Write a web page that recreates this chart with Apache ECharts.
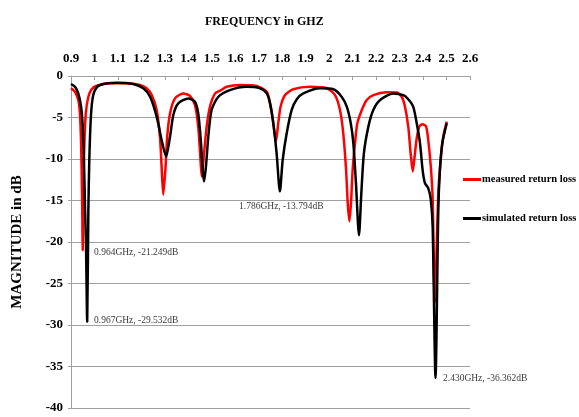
<!DOCTYPE html>
<html>
<head>
<meta charset="utf-8">
<script src="https://cdn.jsdelivr.net/npm/echarts@6/dist/echarts.min.js"></script>
<style>html,body{margin:0;padding:0;background:#fff;}#c{width:579px;height:417px;}</style>
</head>
<body>
<div id="c"></div>
<script>
// Measured return loss (red)
var measuredFreq = [0.900,0.917,0.931,0.938,0.943,0.947,0.950,0.952,0.957,0.963,0.974,0.988,1.010,1.066,1.137,1.194,1.222,1.244,1.265,1.279,1.286,1.293,1.303,1.310,1.322,1.343,1.378,1.407,1.428,1.442,1.450,1.457,1.467,1.478,1.492,1.514,1.535,1.563,1.620,1.691,1.734,1.751,1.762,1.773,1.783,1.793,1.812,1.847,1.918,1.990,2.025,2.046,2.060,2.072,2.079,2.086,2.093,2.100,2.110,2.120,2.139,2.160,2.188,2.245,2.288,2.309,2.323,2.337,2.347,2.356,2.364,2.373,2.384,2.398,2.413,2.422,2.433,2.441,2.450,2.465,2.475,2.486,2.501];
var measuredDb   = [-1.48,-1.9,-2.9,-4.5,-8.1,-14.1,-21.0,-14.1,-8.1,-4.5,-2.5,-1.6,-1.17,-0.88,-0.88,-1.08,-1.48,-2.3,-4.1,-7.3,-10.9,-14.3,-10.9,-7.3,-4.5,-2.7,-2.1,-2.4,-3.5,-6.1,-9.3,-12.1,-9.3,-6.1,-3.7,-2.1,-1.77,-1.3,-1.08,-1.2,-1.9,-3.7,-5.7,-7.9,-5.7,-3.7,-2.3,-1.6,-1.3,-1.48,-2.3,-4.1,-6.9,-11.3,-15.3,-17.5,-15.3,-11.3,-8.1,-5.7,-4.1,-2.9,-2.3,-1.96,-2.0,-2.5,-3.7,-6.1,-9.3,-11.5,-9.7,-7.5,-6.1,-5.8,-6.1,-7.7,-10.9,-14.9,-27.3,-14.1,-10.1,-7.3,-5.5];
// Simulated return loss (black)
var simulatedFreq = [0.900,0.917,0.931,0.943,0.950,0.955,0.960,0.964,0.969,0.974,0.978,0.984,0.991,1.002,1.024,1.095,1.165,1.208,1.237,1.265,1.286,1.305,1.322,1.336,1.357,1.400,1.428,1.442,1.453,1.461,1.467,1.475,1.485,1.499,1.528,1.577,1.648,1.705,1.734,1.748,1.762,1.776,1.790,1.802,1.819,1.840,1.862,1.890,1.961,2.018,2.053,2.075,2.092,2.103,2.114,2.127,2.137,2.148,2.167,2.188,2.217,2.273,2.316,2.337,2.358,2.373,2.387,2.398,2.408,2.422,2.433,2.441,2.453,2.465,2.472,2.482,2.501];
var simulatedDb   = [-0.96,-1.3,-2.1,-3.7,-6.1,-10.1,-16.1,-20.6,-29.6,-16.1,-10.1,-5.3,-2.9,-1.7,-1.08,-0.8,-0.96,-1.48,-2.5,-4.9,-7.7,-9.7,-7.3,-4.7,-3.3,-2.7,-3.1,-4.5,-7.7,-11.3,-12.7,-10.9,-7.3,-4.1,-2.5,-1.7,-1.3,-1.48,-2.1,-3.3,-5.7,-9.3,-13.9,-10.1,-6.9,-4.1,-2.8,-2.1,-1.48,-1.6,-2.5,-3.7,-5.7,-8.1,-12.9,-19.2,-14.1,-9.3,-6.1,-4.1,-2.9,-2.1,-2.3,-2.8,-3.7,-5.7,-8.1,-11.3,-12.9,-13.5,-14.9,-18.2,-36.4,-16.1,-11.3,-8.1,-5.7];
// Annotation texts and anchor positions (left edge of text)
var annoText = ['0.964GHz, -21.249dB','0.967GHz, -29.532dB','1.786GHz, -13.794dB','2.430GHz, -36.362dB'];
var annoFreq = [0.998, 0.998, 1.616, 2.485];
var annoDb   = [-21.3, -29.5, -15.7, -36.4];
// Axis ticks
var xMin = 0.9, xMax = 2.6, xStep = 0.1;
var yMin = -40, yMax = 0, yStep = 5;

function pairs(xs, ys){ return xs.map(function(x,i){ return [x, ys[i]]; }); }
var FONT = "'Liberation Serif','Times New Roman',serif";
var chart = echarts.init(document.getElementById('c'));
chart.setOption({
  animation: false,
  title: { text: 'FREQUENCY in GHZ', left: 200, top: 11,
    textStyle: { fontFamily: FONT, fontSize: 12, fontWeight: 'bold', color: '#000' } },
  grid: { left: 71, right: 109, top: 76, bottom: 9, containLabel: false, outerBoundsMode: 'none' },
  legend: {
    data: ['measured return loss','simulated return loss'],
    orient: 'vertical', left: 463, top: 174, icon: 'rect', itemWidth: 18, itemHeight: 3,
    itemGap: 28, padding: 0,
    textStyle: { fontFamily: FONT, fontSize: 10.5, fontWeight: 'bold', color: '#000', padding: [0,0,0,-4] }
  },
  xAxis: {
    type: 'value', position: 'top', min: xMin, max: xMax, interval: xStep,
    axisLine: { onZero: false, lineStyle: { color: '#a0a0a0' } },
    axisTick: { inside: true, length: 4, lineStyle: { color: '#a0a0a0' } },
    splitLine: { show: false },
    axisLabel: { fontFamily: FONT, fontSize: 13, fontWeight: 'bold', color: '#000', margin: 11,
      formatter: function(v){ return String(Math.round(v*10)/10); } }
  },
  yAxis: {
    type: 'value', min: yMin, max: yMax, interval: yStep,
    name: 'MAGNITUDE in dB', nameLocation: 'middle', nameRotate: 90, nameGap: 46,
    nameTextStyle: { fontFamily: FONT, fontSize: 15, fontWeight: 'bold', color: '#000' },
    axisLine: { show: true, lineStyle: { color: '#a0a0a0' } },
    axisTick: { show: true, length: 3, lineStyle: { color: '#a0a0a0' } },
    splitLine: { lineStyle: { color: '#a0a0a0' } },
    axisLabel: { fontFamily: FONT, fontSize: 13, fontWeight: 'bold', color: '#000', margin: 8 }
  },
  series: [
    { name: 'measured return loss', type: 'line', data: pairs(measuredFreq, measuredDb),
      showSymbol: false, smooth: 0.25, lineStyle: { color: '#ff0000', width: 2.5 }, itemStyle: { color: '#ff0000' } },
    { name: 'simulated return loss', type: 'line', data: pairs(simulatedFreq, simulatedDb),
      showSymbol: false, smooth: 0.25, lineStyle: { color: '#000000', width: 2.5 }, itemStyle: { color: '#000000' } },
    { name: 'annotations', type: 'scatter', symbolSize: 0, silent: true,
      data: annoText.map(function(t,i){ return { value: [annoFreq[i], annoDb[i]], name: t }; }),
      label: { show: true, position: 'right', distance: 0, formatter: function(p){ return p.name; },
        fontFamily: FONT, fontSize: 9.5, color: '#000' } }
  ]
});
</script>
</body>
</html>
